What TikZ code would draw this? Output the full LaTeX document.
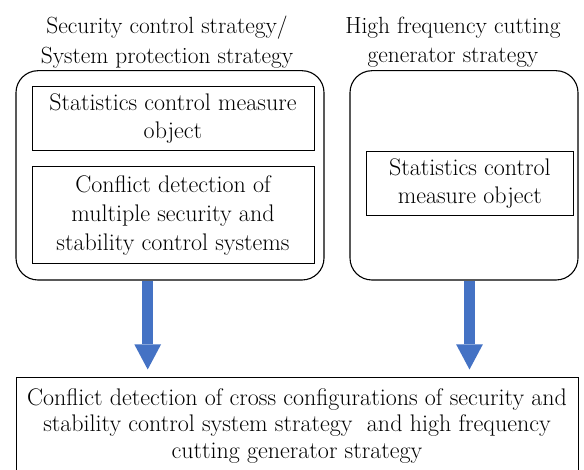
\documentclass[tikz,border=0pt]{standalone}
\usepackage{fontspec}
\usetikzlibrary{arrows.meta}
\definecolor{flowblue}{HTML}{4472C4}

\begin{document}
\begin{tikzpicture}[x = 1pt, y = -1pt,
        every node/.style = {font = \fontsize{24}{27.4}\selectfont, inner sep = 0pt, align = center},
        title/.style = {font = \fontsize{23.4}{29.4}\selectfont},
        group/.style = {draw, line width = 1.1pt, rounded corners = 22pt},
        box/.style = {draw, line width = 1pt},
        flow/.style = {draw = flowblue, line width = 11pt, shorten >= 7.3pt,
            -{Triangle[width = 26.6pt, length = 25pt, line width = 0pt]}}]
    \useasboundingbox (0, 0) rectangle (584, 470);
    % strategy groups
    \node [title] (titleL) at (167, 42) {Security control strategy/\\System protection strategy};
    \node [title] (titleR) at (453, 42) {High frequency cutting\\generator strategy};
    \node [group, minimum width = 308pt, minimum height = 209.3pt] (groupL) at (170, 175.35) {};
    \node [group, minimum width = 228pt, minimum height = 209.3pt] (groupR) at (464, 175.35) {};
    \node [box, minimum width = 282pt, minimum height = 64pt] (measureL) at (173, 118.7)
        {Statistics control measure\\object};
    \node [box, minimum width = 282pt, minimum height = 97pt, font = \fontsize{24}{29}\selectfont] (conflict) at (173, 215.5)
        {Conflict detection of\\multiple security and\\stability control systems};
    \node [box, minimum width = 206.3pt, minimum height = 64pt] (measureR) at (469.85, 183.7)
        {Statistics control\\measure object};
    % result
    \node [box, minimum width = 562pt, minimum height = 97.2pt, font = \fontsize{24}{26.7}\selectfont] (final) at (297, 425.9)
        {Conflict detection of cross configurations of security and\\stability control system strategy~ and high frequency\\cutting generator strategy};
    % arrows
    \coordinate (startL) at ([xshift = -22.3pt] groupL.south);
    \coordinate (startR) at ([xshift = 5.5pt] groupR.south);
    \draw [flow] (startL) -- (startL |- final.north);
    \draw [flow] (startR) -- (startR |- final.north);
\end{tikzpicture}
\end{document}
